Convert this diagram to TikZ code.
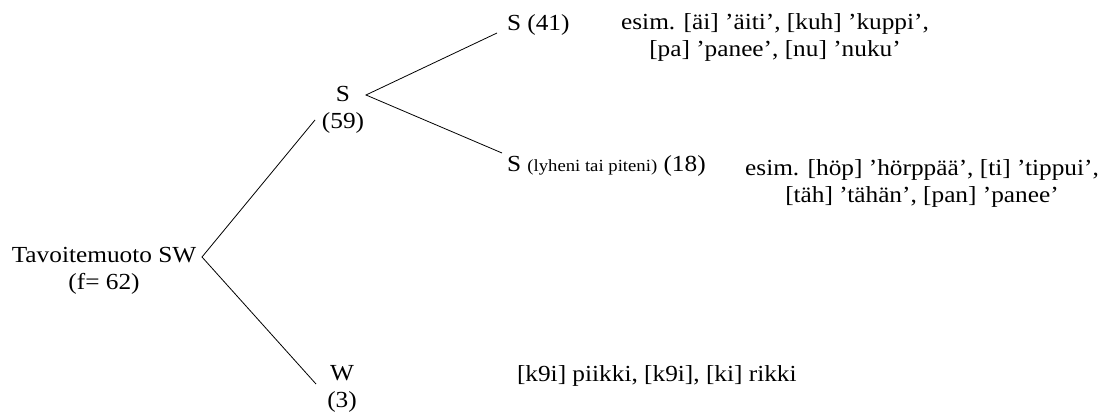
\documentclass[tikz,border=0pt]{standalone}
\usepackage{fontspec}
\setmainfont{Liberation Serif}[FakeStretch=1.1]
\begin{document}
\begin{tikzpicture}[x=1pt,y=-1pt,
  txt/.style={inner sep=0pt,outer sep=0pt,font=\fontsize{23}{27}\selectfont,align=center},
  edge/.style={line width=0.8pt,black}]
\useasboundingbox (0,0) rectangle (1101,412);
% nodes
\node[txt] (root) at (104,271) {Tavoitemuoto SW\\(f= 62)};
\node[txt] (s59) at (343,110) {S\\(59)};
\node[txt] (w3) at (342,389) {W\\(3)};
\node[txt,anchor=west] (s41) at (507,25) {S (41)};
\node[txt,anchor=west] (s18) at (507,166) {S {\fontsize{17}{18}\selectfont(lyheni tai piteni)} (18)};
\node[txt] (ex41) at (775,37) {esim. [äi] 'äiti', [kuh] 'kuppi',\\{}[pa] 'panee', [nu] 'nuku'};
\node[txt] (ex18) at (922,183) {esim. [höp] 'hörppää', [ti] 'tippui',\\{}[täh] 'tähän', [pan] 'panee'};
\node[txt,anchor=west] (exw) at (517,376) {[k9i] piikki, [k9i], [ki] rikki};
% connector ends
\coordinate (rootE) at (202,257);
\coordinate (s59W) at (315,120);
\coordinate (w3W) at (316,384);
\coordinate (s59E) at (366,95);
\coordinate (s41W) at (497,33);
\coordinate (s18W) at (502,153);
\draw[edge] (s59W) -- (rootE) -- (w3W);
\draw[edge] (s41W) -- (s59E) -- (s18W);
\end{tikzpicture}
\end{document}
